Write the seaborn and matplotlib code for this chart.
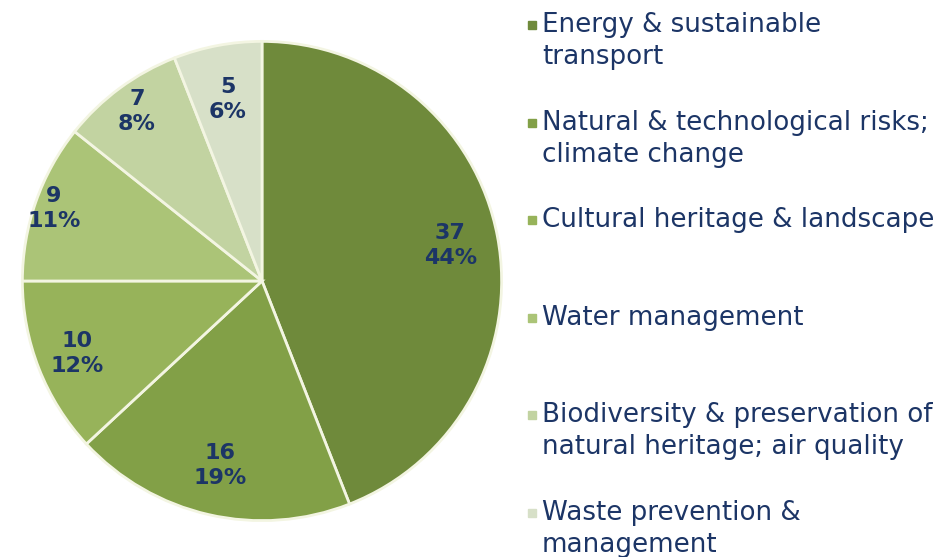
import matplotlib
matplotlib.use("Agg")
import numpy as np
import matplotlib.pyplot as plt
import seaborn as sns

sns.set_theme(style="white")
plt.rcParams['font.family'] = ['DejaVu Sans']

### Data ###

categories = ["Energy & sustainable\ntransport",
              "Natural & technological risks;\nclimate change",
              "Cultural heritage & landscape",
              "Water management",
              "Biodiversity & preservation of\nnatural heritage; air quality",
              "Waste prevention &\nmanagement"]
counts = [37, 16, 10, 9, 7, 5]
colors = ["#6f8a3b", "#82a047", "#97b35a", "#abc477", "#c2d3a1", "#d7e0c8"]
text_color = "#1c3566"

# label distance from centre for each slice (fraction of radius)
label_dist = [0.80, 0.79, 0.83, 0.92, 0.88, 0.77]

### Plot ###

fig = plt.figure(figsize=(9.46, 5.57), dpi=100)
ax = fig.add_axes([20/946, 34/557, 484/946, 484/557])

total = sum(counts)

def label(pct):
    n = int(round(pct * total / 100))
    return "{}\n{:.0f}%".format(n, pct)

wedges, texts, autotexts = ax.pie(counts, colors=colors, startangle=90, counterclock=False,
                                  autopct=label, pctdistance=0.82,
                                  wedgeprops=dict(edgecolor="#f3f5e2", linewidth=2),
                                  textprops=dict(color=text_color, fontsize=16, fontweight="bold"))
for w, t, d in zip(wedges, autotexts, label_dist):
    ang = np.deg2rad((w.theta1 + w.theta2) / 2)
    t.set_position((d * np.cos(ang), d * np.sin(ang)))
    t.set_linespacing(1.3)
ax.set_xlim(-1.01, 1.01)
ax.set_ylim(-1.01, 1.01)
ax.set_aspect("equal")

# Legend, one slot per category
slot = 97.6 / 557
line = 32 / 557
y0 = 1 - 25 / 557
for i, (cat, col) in enumerate(zip(categories, colors)):
    y = y0 - i * slot
    fig.patches.append(plt.Rectangle((528/946, y - 4/557), 8/946, 8/557,
                                     transform=fig.transFigure, color=col, zorder=3))
    for j, part in enumerate(cat.split("\n")):
        fig.text(542/946, y - j * line, part, color=text_color, fontsize=18.8,
                 va="center", ha="left")

plt.savefig("out.png", dpi=100)
